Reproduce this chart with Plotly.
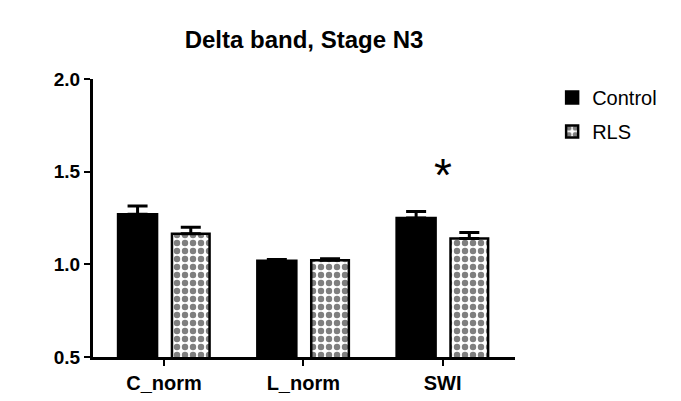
# Delta band, Stage N3 - grouped bars Control vs RLS with SEM bars

import plotly.graph_objects as go

categories = ["C_norm", "L_norm", "SWI"]
control_means = [1.27, 1.02, 1.25]
control_sem = [0.045, 0.006, 0.035]
rls_means = [1.165, 1.022, 1.14]
rls_sem = [0.035, 0.008, 0.032]
star_label = "*"
star_category = "SWI"
star_y = 1.52

font_family = "Liberation Sans, Arial, sans-serif"

fig = go.Figure()

fig.add_trace(go.Bar(
    x=categories, y=control_means, name="Control",
    offset=-0.33, width=0.28,
    marker=dict(color="black", line=dict(color="black", width=2.5)),
    error_y=dict(type="data", array=control_sem, arrayminus=[0] * 3,
                 symmetric=False, color="black", thickness=3, width=10),
    legendgroup="a",
))
fig.add_trace(go.Bar(
    x=categories, y=rls_means, name="RLS",
    offset=0.057, width=0.27,
    marker=dict(color="white", line=dict(color="black", width=2.5),
                pattern=dict(shape=".", fgcolor="black", bgcolor="white",
                             size=8, solidity=0.5)),
    error_y=dict(type="data", array=rls_sem, arrayminus=[0] * 3,
                 symmetric=False, color="black", thickness=3, width=10),
    legendgroup="b",
))

fig.add_annotation(x=star_category, y=star_y, text=star_label, showarrow=False,
                   font=dict(size=46, color="black", family=font_family),
                   yanchor="middle", yshift=-7)

# page body adds 8px on the left/top, so the figure is 8px smaller
fig.update_layout(
    width=673, height=393,
    margin=dict(l=85, r=166, t=71, b=44),
    paper_bgcolor="white", plot_bgcolor="white",
    barmode="overlay",
    font=dict(family=font_family, color="black"),
    title=dict(text="<b>Delta band, Stage N3</b>", x=0.5, xref="paper",
               xanchor="center", y=1 - 32 / 393, yref="container",
               yanchor="middle", font=dict(size=24)),
    legend=dict(x=1.088, y=1.004, xanchor="left", yanchor="top",
                font=dict(size=20), tracegroupgap=5, traceorder="grouped",
                itemwidth=30),
    xaxis=dict(type="category", range=[-0.51, 2.52], showline=True,
               automargin=False,
               linecolor="black", linewidth=3, ticks="outside", ticklen=6,
               tickwidth=2, tickcolor="black", showgrid=False,
               tickfont=dict(size=20, family="Liberation Sans, Arial",
                             weight="bold")),
    yaxis=dict(range=[0.5, 2.0], tickvals=[0.5, 1.0, 1.5, 2.0],
               ticktext=["0.5", "1.0", "1.5", "2.0"], showline=True,
               automargin=False,
               linecolor="black", linewidth=3, ticks="outside", ticklen=6,
               tickwidth=2, tickcolor="black", showgrid=False, zeroline=False,
               tickfont=dict(size=19, family="Liberation Sans, Arial",
                             weight="bold")),
)

fig.write_html("out.html")
